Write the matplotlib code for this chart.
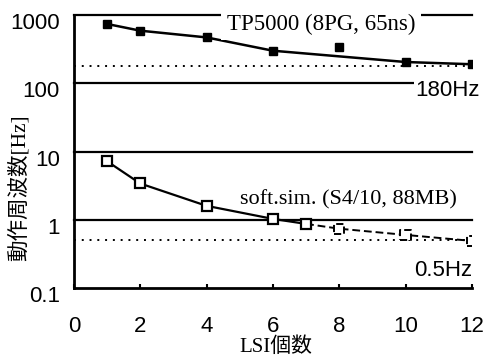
import matplotlib
matplotlib.use("Agg")
import matplotlib.pyplot as plt
import matplotlib.transforms as mtransforms

# data
tp_x = [1, 2, 4, 6, 8, 10, 12]
tp_y = [740, 590, 470, 300, 345, 205, 190]
tp_line_x = [1, 2, 4, 6, 10, 12]
tp_line_y = [740, 590, 470, 300, 205, 190]
soft_x = [1, 2, 4, 6, 7]
soft_y = [7.2, 3.4, 1.6, 1.03, 0.87]
soft_ext_x = [7, 8, 10, 12]
soft_ext_y = [0.87, 0.74, 0.6, 0.49]
soft_ext_mx = [8, 10, 12]
soft_ext_my = [0.74, 0.6, 0.49]
ref_180 = 180
ref_05 = 0.5
xticks = [0, 2, 4, 6, 8, 10, 12]
yticks = [0.1, 1, 10, 100, 1000]
ylabels = ["0.1", "1", "10", "100", "1000"]

fig = plt.figure(figsize=(4.86, 3.58), dpi=100)
ax = fig.add_axes([0.152, 0.1955, 0.819, 0.7625])
ax.set_yscale("log")
ax.set_xlim(0, 12)
ax.set_ylim(0.1, 1000)

for s in ["top", "right"]:
    ax.spines[s].set_visible(False)
ax.spines["left"].set_linewidth(2.0)
ax.spines["bottom"].set_linewidth(2.0)

for v in [1, 10, 100, 1000]:
    ax.axhline(v, color="black", lw=1.6, zorder=1, clip_on=False)
ax.axhline(ref_180, color="black", lw=1.4, ls=(0, (1, 3)), zorder=1)
ax.axhline(ref_05, color="black", lw=1.4, ls=(0, (1, 3)), zorder=1)

ax.plot(tp_line_x, tp_line_y, color="black", lw=1.8, zorder=3)
ax.plot(tp_x, tp_y, ls="none", marker="s", ms=5.5, color="black", zorder=4)

ax.plot(soft_x, soft_y, color="black", lw=1.6, zorder=3)
ax.plot(soft_x, soft_y, ls="none", marker="s", ms=7.5, mfc="white", mec="black", mew=1.6, zorder=4)
ax.plot(soft_ext_x, soft_ext_y, color="black", lw=1.4, ls=(0, (4, 2)), zorder=3)
ax.scatter(soft_ext_mx, soft_ext_my, marker="s", s=55, facecolors="white", edgecolors="black",
           linewidths=1.4, linestyle="--", zorder=4)

serif = ["Liberation Serif", "Noto Sans CJK JP"]
ax.text(7.45, 740, "TP5000 (8PG, 65ns)", family=serif, fontsize=16.5, ha="center", va="center",
        bbox=dict(fc="white", ec="none", pad=4), zorder=5)
ax.text(12.24, 79, "180Hz", family="Liberation Sans", fontsize=16, ha="right", va="center",
        bbox=dict(fc="white", ec="none", pad=1), zorder=5)
ax.text(8.29, 1.95, "soft.sim. (S4/10, 88MB)", family=serif, fontsize=16, ha="center", va="center", zorder=5)
ax.text(12.0, 0.18, "0.5Hz", family="Liberation Sans", fontsize=16, ha="right", va="center", zorder=5)

ax.set_xticks(xticks)
ax.set_xticklabels([str(t) for t in xticks], family="Liberation Sans", fontsize=16)
ax.set_yticks(yticks)
ax.set_yticklabels(ylabels, family="Liberation Sans", fontsize=16)
ax.yaxis.set_minor_locator(matplotlib.ticker.NullLocator())
ax.tick_params(axis="x", direction="in", length=3, width=1.5, pad=20)
ax.tick_params(axis="y", length=0, pad=10)

off = mtransforms.ScaledTranslation(0, -6 / 100, fig.dpi_scale_trans)
for lab in ax.get_yticklabels():
    lab.set_transform(lab.get_transform() + off)

fig.text(276 / 486, 1 - 347 / 358, "LSI個数", family=serif, fontsize=15, ha="center", va="center")
fig.text(19 / 486, 1 - 187.5 / 358, "動作周波数[Hz]", family=serif, fontsize=15.5,
         rotation=90, ha="center", va="center")

fig.savefig("out.png", dpi=100)
